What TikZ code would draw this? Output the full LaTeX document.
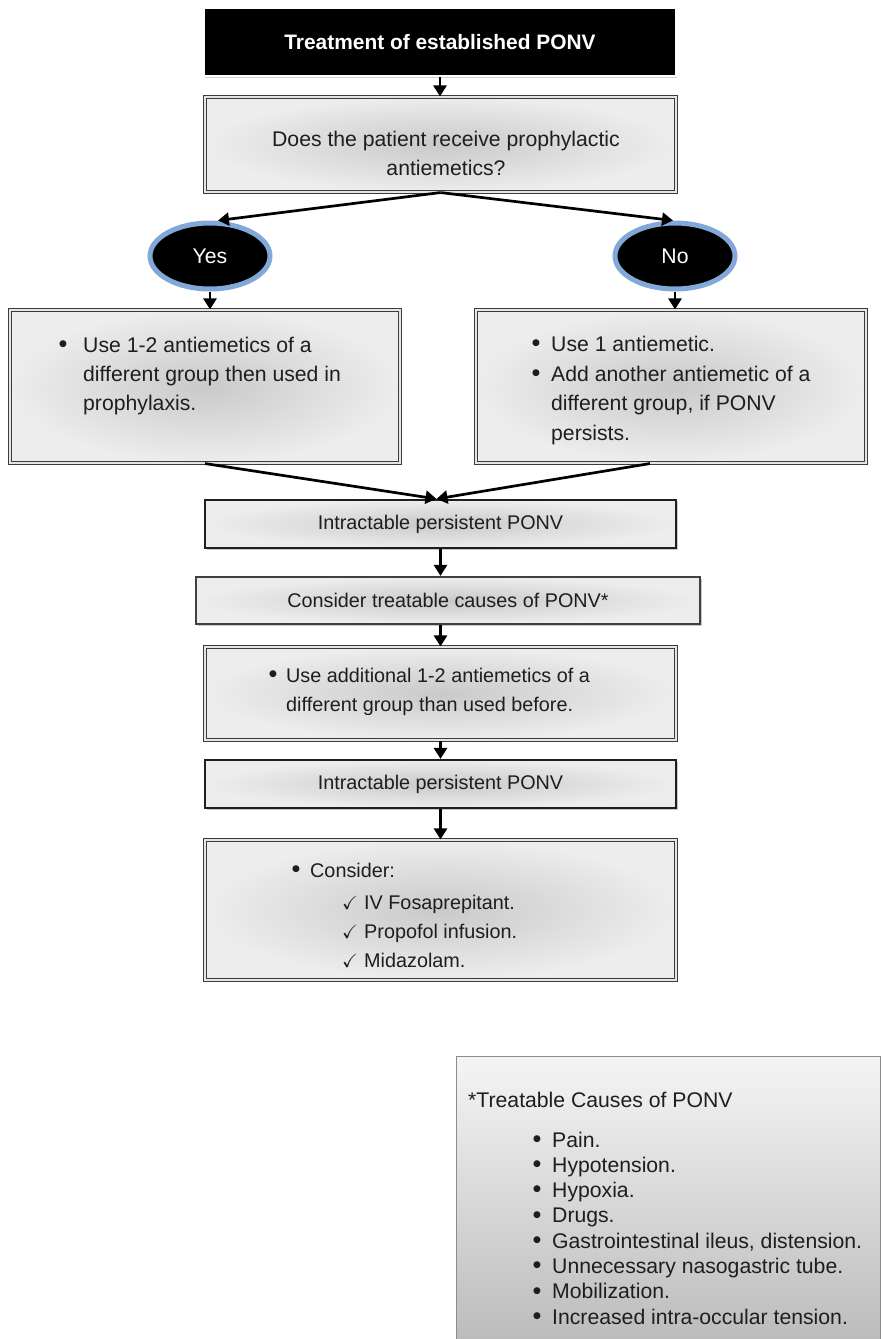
\documentclass[tikz,border=0pt]{standalone}
\usepackage{fontspec}
\setmainfont{Liberation Sans}
\newfontfamily\dvsans{DejaVu Sans}
\usepackage{amssymb}
\usetikzlibrary{arrows.meta,shapes.geometric,shadows}

\definecolor{txt}{HTML}{1E1E1E}
\definecolor{ring}{HTML}{82A8DA}
\definecolor{edge}{HTML}{3C3C3C}

\newcommand\txtbig{\fontsize{21.2}{29.5}\selectfont}
\newcommand\txtsmall{\fontsize{19.8}{29}\selectfont}
\newcommand\ttlfont{\fontsize{20.9}{25}\selectfont\bfseries}
\newcommand\bulfont{\dvsans\fontsize{9}{9}\selectfont}
\newcommand\chkfont{\fontsize{19}{19}\selectfont}

\tikzset{
  tx/.style={inner sep=0pt, text=txt, font=\txtbig},
  txs/.style={inner sep=0pt, text=txt, font=\txtsmall},
  bul/.style={inner sep=0pt, text=txt, font=\bulfont},
  chk/.style={inner sep=0pt, text=txt, font=\chkfont},
  metal/.style={inner color=black!21, outer color=black!7},
  boxshadow/.style={drop shadow={shadow xshift=1.5pt, shadow yshift=-1.5pt, opacity=0.22, fill=black}},
  dblbox/.style={rectangle, metal, boxshadow, draw=edge, line width=1.1pt,
    double=black!10, double distance=2.2pt, inner sep=0pt},
  sbox/.style={rectangle, metal, boxshadow, draw=black!88, line width=2.2pt,
    inner sep=0pt, text=txt, font=\txtsmall},
  titlebox/.style={rectangle, fill=black, draw=white, line width=2pt,
    drop shadow={shadow xshift=1pt, shadow yshift=-2pt, opacity=0.3, fill=black!60},
    text=white, font=\ttlfont, minimum width=472pt, minimum height=68pt},
  ans/.style={ellipse, fill=black, draw=ring, line width=5pt, minimum width=120pt,
    minimum height=66pt, inner sep=0pt, text=white, font=\txtbig},
  legbox/.style={rectangle, top color=black!4, bottom color=black!27,
    draw=black!45, line width=0.8pt, inner sep=0pt},
  flow/.style={draw=black, line width=2.7pt, -{Triangle[length=11pt,width=13pt]}},
}

\begin{document}
\begin{tikzpicture}[x=1pt,y=-1pt]
\useasboundingbox (0,0) rectangle (883,1339);
\fill[white] (0,0) rectangle (883,1339);

% heading and question
\node[titlebox] (title) at (440,42) {Treatment of established PONV};
\node[dblbox, minimum width=471pt, minimum height=95pt] (q) at (440.5,144.5) {};
\node[tx, anchor=base] (q1) at (446,146) {Does the patient receive prophylactic};
\node[tx, anchor=base] (q2) at (446,175) {antiemetics?};

% answers
\node[ans] (yes) at (210,256) {Yes};
\node[ans] (no) at (675,256) {No};

% branch: prophylaxis given
\node[dblbox, minimum width=390pt, minimum height=153pt] (yb) at (205,386.5) {};
\node[bul] (yb0) at (63,344) {●};
\node[tx, anchor=base west] (yb1) at (83,352) {Use 1-2 antiemetics of a};
\node[tx, anchor=base west] (yb2) at (83,381) {different group then used in};
\node[tx, anchor=base west] (yb3) at (83,410) {prophylaxis.};

% branch: no prophylaxis
\node[dblbox, minimum width=390pt, minimum height=153pt] (nb) at (671,386.5) {};
\node[bul] (nb0) at (536,343) {●};
\node[bul] (nb5) at (536,373) {●};
\node[tx, anchor=base west] (nb1) at (551,351) {Use 1 antiemetic.};
\node[tx, anchor=base west] (nb2) at (551,381) {Add another antiemetic of a};
\node[tx, anchor=base west] (nb3) at (551,410) {different group, if PONV};
\node[tx, anchor=base west] (nb4) at (551,440) {persists.};

% central column
\node[sbox, minimum width=471pt, minimum height=48pt] (i1) at (440.5,524) {Intractable persistent PONV};
\node[sbox, minimum width=504pt, minimum height=47pt, draw=black!75] (cons) at (448,600.5) {Consider treatable causes of PONV*};

\node[dblbox, minimum width=471pt, minimum height=93pt] (ad) at (440.5,693.5) {};
\node[bul] (ad0) at (273,674) {●};
\node[txs, anchor=base west] (ad1) at (286,682) {Use additional 1-2 antiemetics of a};
\node[txs, anchor=base west] (ad2) at (286,711) {different group than used before.};

\node[sbox, minimum width=471pt, minimum height=48pt] (i2) at (440.5,784) {Intractable persistent PONV};

\node[dblbox, minimum width=471pt, minimum height=140pt] (fin) at (440.5,910) {};
\node[bul] (fn0) at (296,869) {●};
\node[txs, anchor=base west] (fn1) at (310,877) {Consider:};
\node[chk, anchor=base west] (fc1) at (342,909) {$\checkmark$};
\node[txs, anchor=base west] (fn2) at (364,909) {IV Fosaprepitant.};
\node[chk, anchor=base west] (fc2) at (342,938) {$\checkmark$};
\node[txs, anchor=base west] (fn3) at (364,938) {Propofol infusion.};
\node[chk, anchor=base west] (fc3) at (342,967) {$\checkmark$};
\node[txs, anchor=base west] (fn4) at (364,967) {Midazolam.};

% connectors
\draw[flow] (title.south) -- (title.south |- q.north);
\draw[flow] (q.south) -- ([xshift=8pt]yes.north);
\draw[flow] (q.south) -- ([xshift=-2pt]no.north);
\draw[flow] (yes.south) -- (yes.south |- yb.north);
\draw[flow] (no.south) -- (no.south |- nb.north);
\draw[flow] (yb.south) -- ([xshift=-4pt]i1.north);
\draw[flow] ([xshift=-21pt]nb.south) -- ([xshift=-4pt]i1.north);
\draw[flow] (i1.south) -- (i1.south |- cons.north);
\draw[flow] (i1.south |- cons.south) -- (ad.north);
\draw[flow] (ad.south) -- (i2.north);
\draw[flow] (i2.south) -- (fin.north);

% footnote box
\node[legbox, minimum width=424pt, minimum height=292pt] (leg) at (668,1202) {};
\node[tx, anchor=base west] (lt) at (468,1107) {*Treatable Causes of PONV};
\foreach \t [count=\i] in {Pain., Hypotension., Hypoxia., Drugs.,
    {Gastrointestinal ileus, distension.}, Unnecessary nasogastric tube.,
    Mobilization., Increased intra-occular tension.} {
  \node[bul] (lb\i) at (537,{1139+25.3*(\i-1)}) {●};
  \node[tx, anchor=base west] (lc\i) at (552,{1147+25.3*(\i-1)}) {\t};
}
\end{tikzpicture}
\end{document}
